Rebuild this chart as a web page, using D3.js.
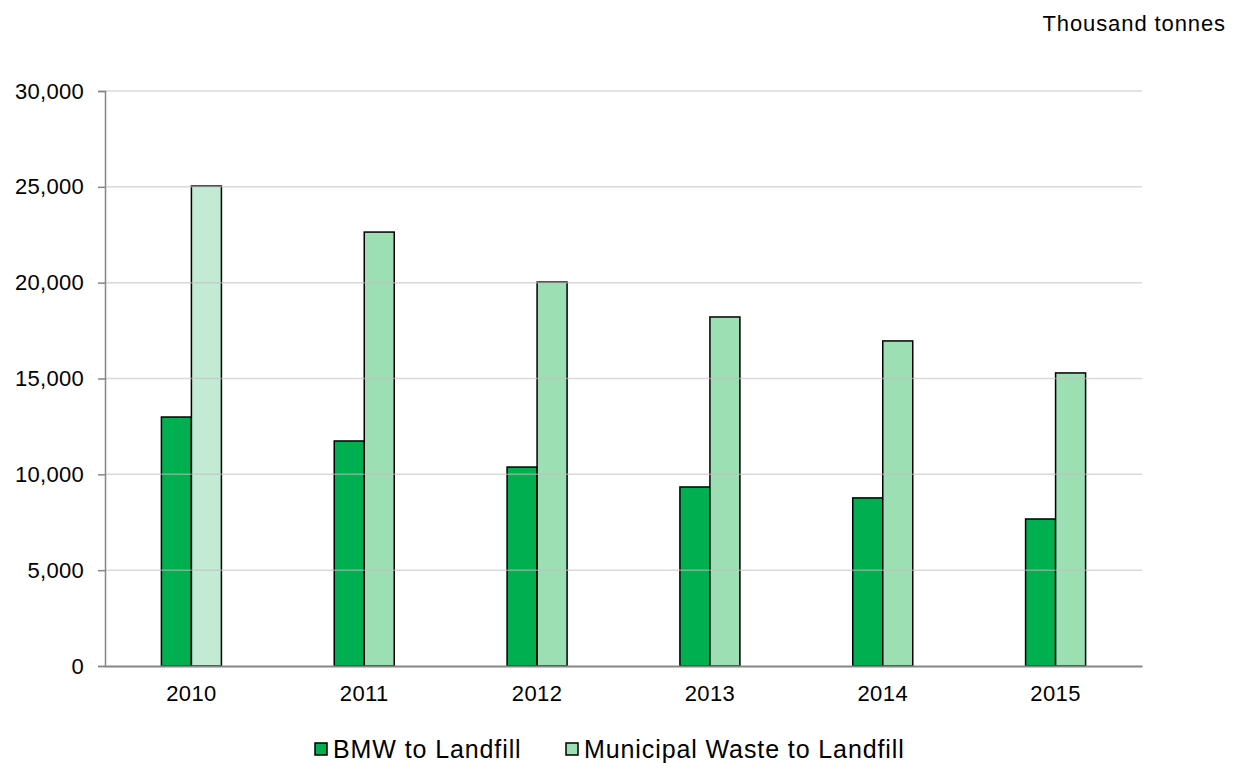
<!DOCTYPE html>
<html>
<head>
<meta charset="utf-8">
<script src="https://cdn.jsdelivr.net/npm/d3@7"></script>
<style>
  body { margin: 0; background: #fff; }
  text { font-family: "Liberation Sans", Arial, sans-serif; fill: #000; }
</style>
</head>
<body>
<script>
const years = ['2010', '2011', '2012', '2013', '2014', '2015']
const bmwToLandfill = [12990, 11740, 10380, 9340, 8770, 7670]
const municipalToLandfill = [25040, 22640, 20030, 18210, 16960, 15290]
const seriesNames = ['BMW to Landfill', 'Municipal Waste to Landfill']
const yTicks = [0, 5000, 10000, 15000, 20000, 25000, 30000]

const width = 1236
const height = 763
const plotLeft = 105, plotRight = 1142, plotTop = 91, plotBottom = 666
const font = '"Liberation Sans", Arial, sans-serif'

const svg = d3.select('body').append('svg')
  .attr('width', width)
  .attr('height', height)

const xScale = d3.scaleBand()
  .domain(years)
  .range([plotLeft, plotRight])

const yScale = d3.scaleLinear()
  .domain([0, 30000])
  .range([plotBottom, plotTop])

const barW = 30

// bars
const rows = years.map((y, i) => ({ year: y, bmw: bmwToLandfill[i], mun: municipalToLandfill[i] }))

const g = svg.append('g')
g.selectAll('rect.bmw')
  .data(rows)
  .enter()
  .append('rect')
  .attr('class', 'bmw')
  .attr('x', d => xScale(d.year) + xScale.bandwidth() / 2 - barW)
  .attr('y', d => yScale(d.bmw))
  .attr('width', barW)
  .attr('height', d => plotBottom - yScale(d.bmw))
  .attr('fill', '#00b050')
  .attr('stroke', '#000')
  .attr('stroke-width', 1.5)

g.selectAll('rect.mun')
  .data(rows)
  .enter()
  .append('rect')
  .attr('class', 'mun')
  .attr('x', d => xScale(d.year) + xScale.bandwidth() / 2)
  .attr('y', d => yScale(d.mun))
  .attr('width', barW)
  .attr('height', d => plotBottom - yScale(d.mun))
  .attr('fill', (d, i) => i === 0 ? '#c3ead3' : '#9bdfb3')
  .attr('stroke', '#000')
  .attr('stroke-width', 1.5)

// gridlines, drawn over the bars like the original
svg.append('g')
  .selectAll('line')
  .data(yTicks.filter(t => t > 0))
  .enter()
  .append('line')
  .attr('x1', plotLeft)
  .attr('x2', plotRight)
  .attr('y1', d => yScale(d))
  .attr('y2', d => yScale(d))
  .attr('stroke', '#bfbfbf')
  .attr('stroke-opacity', 0.6)
  .attr('stroke-width', 1.5)

// y axis
const yAxis = svg.append('g')
  .attr('transform', `translate(${plotLeft},0)`)
  .call(d3.axisLeft(yScale).tickValues(yTicks).tickSize(7).tickPadding(14).tickFormat(d3.format(',')))
yAxis.select('.domain').attr('stroke', '#868686').attr('stroke-width', 1.5)
yAxis.selectAll('.tick line').attr('stroke', '#868686').attr('stroke-width', 1.5)
yAxis.selectAll('text')
  .attr('font-size', '22px')
  .attr('letter-spacing', '0.3px')
  .attr('font-family', font)
  .attr('fill', '#000')

// x axis
const xAxis = svg.append('g')
  .attr('transform', `translate(0,${plotBottom})`)
  .call(d3.axisBottom(xScale).tickSize(0).tickPadding(19))
xAxis.select('.domain').attr('stroke', '#868686').attr('stroke-width', 2)
xAxis.selectAll('text')
  .attr('font-size', '22px')
  .attr('letter-spacing', '0.4px')
  .attr('font-family', font)
  .attr('fill', '#000')

// unit label
svg.append('text')
  .attr('x', 1226)
  .attr('y', 31)
  .attr('text-anchor', 'end')
  .attr('font-size', '22px')
  .attr('letter-spacing', '0.9px')
  .text('Thousand tonnes')

// legend
const legendColours = ['#00b050', '#9bdfb3']
const legendX = [315, 566]
const legend = svg.append('g')
seriesNames.forEach((name, i) => {
  legend.append('rect')
    .attr('x', legendX[i])
    .attr('y', 743)
    .attr('width', 12)
    .attr('height', 12)
    .attr('fill', legendColours[i])
    .attr('stroke', '#000')
    .attr('stroke-width', 1.5)
  legend.append('text')
    .attr('x', legendX[i] + 18)
    .attr('y', 758)
    .attr('font-size', '25px')
    .attr('letter-spacing', '0.9px')
    .text(name)
})
</script>
</body>
</html>
